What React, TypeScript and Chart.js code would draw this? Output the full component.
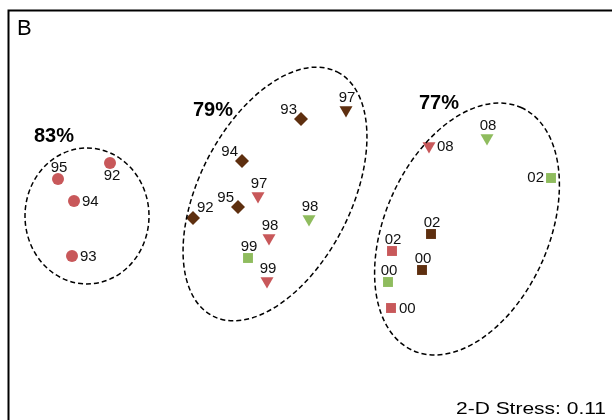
import React, { useEffect, useRef } from "react";
import { Chart, registerables } from "chart.js";

Chart.register(...registerables);

const RED = "#c8585a";
const BROWN = "#5e2f0f";
const GREEN = "#8fbc5e";
const FONT = '"Liberation Sans", Arial, Helvetica, sans-serif';

// NMDS coordinates (axis 1, axis 2)
const redCircleX = [-1.9, -2.42, -2.26, -2.28];
const redCircleY = [0.47, 0.31, 0.09, -0.46];
const redCircleLabels = ["92", "95", "94", "93"];
const redCirclePos = ["below", "above", "right", "right"];

const brownDiamondX = [0.01, -0.58, -0.62, -1.07];
const brownDiamondY = [0.91, 0.49, 0.03, -0.08];
const brownDiamondLabels = ["93", "94", "95", "92"];
const brownDiamondPos = ["upleft", "upleft", "upleft", "upright"];

const brownTriangleX = [0.46];
const brownTriangleY = [1.0];
const brownTriangleLabels = ["97"];
const brownTrianglePos = ["above"];

const redTriangleX = [-0.42, -0.31, -0.33, 1.29];
const redTriangleY = [0.14, -0.28, -0.71, 0.64];
const redTriangleLabels = ["97", "98", "99", "08"];
const redTrianglePos = ["above", "above", "above", "right"];

const greenTriangleX = [0.09, 1.87];
const greenTriangleY = [-0.09, 0.72];
const greenTriangleLabels = ["98", "08"];
const greenTrianglePos = ["above", "above"];

const greenSquareX = [-0.52, 2.51, 0.88];
const greenSquareY = [-0.48, 0.32, -0.72];
const greenSquareLabels = ["99", "02", "00"];
const greenSquarePos = ["above", "left", "above"];

const brownSquareX = [1.31, 1.22];
const brownSquareY = [-0.24, -0.6];
const brownSquareLabels = ["02", "00"];
const brownSquarePos = ["above", "above"];

const redSquareX = [0.92, 0.91];
const redSquareY = [-0.41, -0.98];
const redSquareLabels = ["02", "00"];
const redSquarePos = ["above", "right"];

// similarity ellipses
const ellipseCX = [-2.13, -0.25, 1.67];
const ellipseCY = [-0.06, 0.16, -0.19];
const ellipseA = [0.68, 1.37, 1.33];
const ellipseB = [0.62, 0.76, 0.82];
const ellipseAngle = [90, 63, 66];
const ellipseLabels = ["83%", "79%", "77%"];
const ellipseLabelX = [-2.46, -0.87, 1.39];
const ellipseLabelY = [0.74, 1.0, 1.07];

const panelLabel = "B";
const stressLabel = "2-D Stress: 0.11";

function pts(xs: number[], ys: number[]) {
  return xs.map((x, i) => ({ x, y: ys[i] }));
}

const groups = [
  { xs: redCircleX, ys: redCircleY, labels: redCircleLabels, pos: redCirclePos, color: RED, style: "circle", r: 6, rot: 0 },
  { xs: brownDiamondX, ys: brownDiamondY, labels: brownDiamondLabels, pos: brownDiamondPos, color: BROWN, style: "rectRot", r: 7, rot: 0 },
  { xs: brownTriangleX, ys: brownTriangleY, labels: brownTriangleLabels, pos: brownTrianglePos, color: BROWN, style: "triangle", r: 7.5, rot: 180 },
  { xs: redTriangleX, ys: redTriangleY, labels: redTriangleLabels, pos: redTrianglePos, color: RED, style: "triangle", r: 7.5, rot: 180 },
  { xs: greenTriangleX, ys: greenTriangleY, labels: greenTriangleLabels, pos: greenTrianglePos, color: GREEN, style: "triangle", r: 7.5, rot: 180 },
  { xs: greenSquareX, ys: greenSquareY, labels: greenSquareLabels, pos: greenSquarePos, color: GREEN, style: "rect", r: 7, rot: 0 },
  { xs: brownSquareX, ys: brownSquareY, labels: brownSquareLabels, pos: brownSquarePos, color: BROWN, style: "rect", r: 7, rot: 0 },
  { xs: redSquareX, ys: redSquareY, labels: redSquareLabels, pos: redSquarePos, color: RED, style: "rect", r: 7, rot: 0 },
];

const annotationPlugin = {
  id: "nmdsAnnotations",
  afterDatasetsDraw(chart: any) {
    const ctx = chart.ctx as CanvasRenderingContext2D;
    const xs = chart.scales.x;
    const ys = chart.scales.y;
    const unit = Math.abs(xs.getPixelForValue(1) - xs.getPixelForValue(0));

    // ellipses
    ctx.save();
    ctx.strokeStyle = "#000";
    ctx.lineWidth = 1.5;
    ctx.setLineDash([5, 3]);
    ellipseCX.forEach((cx, i) => {
      ctx.beginPath();
      ctx.ellipse(
        xs.getPixelForValue(cx),
        ys.getPixelForValue(ellipseCY[i]),
        ellipseA[i] * unit,
        ellipseB[i] * unit,
        (-ellipseAngle[i] * Math.PI) / 180,
        0,
        Math.PI * 2
      );
      ctx.stroke();
    });
    ctx.restore();

    // percentage labels
    ctx.save();
    ctx.fillStyle = "#000";
    ctx.font = `bold 20px ${FONT}`;
    ctx.textAlign = "center";
    ctx.textBaseline = "middle";
    ellipseLabels.forEach((t, i) => {
      ctx.fillText(t, xs.getPixelForValue(ellipseLabelX[i]), ys.getPixelForValue(ellipseLabelY[i]));
    });
    ctx.restore();

    // point labels
    ctx.save();
    ctx.fillStyle = "#111";
    ctx.font = `15px ${FONT}`;
    ctx.textBaseline = "middle";
    chart.data.datasets.forEach((ds: any, di: number) => {
      const meta = chart.getDatasetMeta(di);
      const g = groups[di];
      meta.data.forEach((el: any, i: number) => {
        const p = g.pos[i];
        const t = g.labels[i];
        let x = el.x;
        let y = el.y;
        if (p === "above") {
          ctx.textAlign = "center";
          y -= g.style === "triangle" ? 12 : 11;
          x += 1;
        } else if (p === "below") {
          ctx.textAlign = "center";
          x += 2;
          y += 13;
        } else if (p === "right") {
          ctx.textAlign = "left";
          x += 8;
          y += 1;
        } else if (p === "left") {
          ctx.textAlign = "right";
          x -= 7;
        } else if (p === "upleft") {
          ctx.textAlign = "right";
          x -= 4;
          y -= 9;
        } else if (p === "upright") {
          ctx.textAlign = "left";
          x += 4;
          y -= 10;
        }
        ctx.fillText(t, x, y);
      });
    });
    ctx.restore();
  },
  afterDraw(chart: any) {
    const ctx = chart.ctx as CanvasRenderingContext2D;
    ctx.save();
    // frame
    ctx.strokeStyle = "#000";
    ctx.lineWidth = 2;
    ctx.strokeRect(8.5, 10.5, 800, 600);
    // panel label
    ctx.fillStyle = "#000";
    ctx.font = `22px ${FONT}`;
    ctx.textAlign = "left";
    ctx.textBaseline = "alphabetic";
    ctx.fillText(panelLabel, 17, 35);
    // stress
    ctx.font = `17px ${FONT}`;
    const w = ctx.measureText(stressLabel).width;
    const sx = 150 / w;
    ctx.translate(606, 414);
    ctx.scale(sx, 1);
    ctx.textAlign = "right";
    ctx.fillText(stressLabel, 0, 0);
    ctx.restore();
  },
};

export default function App() {
  const ref = useRef<HTMLCanvasElement | null>(null);
  useEffect(() => {
    document.body.style.margin = "0";
    const canvas = ref.current!;
    const chart = new Chart(canvas, {
      type: "scatter",
      data: {
        datasets: groups.map((g) => ({
          data: pts(g.xs, g.ys),
          pointStyle: g.style as any,
          pointRadius: g.r,
          pointRotation: g.rot,
          backgroundColor: g.color,
          borderColor: g.color,
          borderWidth: 0,
        })),
      },
      options: {
        responsive: false,
        animation: false,
        layout: { padding: 0, autoPadding: false },
        scales: {
          x: { type: "linear", min: -3.0, max: 3.12, display: false },
          y: { type: "linear", min: -2.1, max: 2.1, display: false },
        },
        plugins: { legend: { display: false }, tooltip: { enabled: false } },
      },
      plugins: [annotationPlugin],
    });
    return () => chart.destroy();
  }, []);
  return (
    <div style={{ position: "absolute", left: 0, top: 0, width: 612, height: 420, background: "#fff" }}>
      <canvas ref={ref} width={612} height={420} style={{ display: "block" }} />
    </div>
  );
}
